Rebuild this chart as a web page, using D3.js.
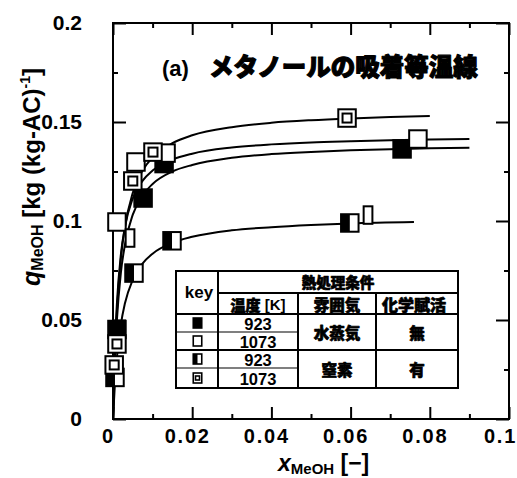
<!DOCTYPE html>
<html><head><meta charset="utf-8">
<script src="https://cdn.jsdelivr.net/npm/d3@7/dist/d3.min.js"></script>
<style>body{margin:0;background:#fff}svg{display:block}</style>
</head><body><svg id="c" width="517" height="478"></svg>
<script>
// ---------- data ----------
const xTicks = [0, 0.02, 0.04, 0.06, 0.08, 0.1];
const xTickLabels = ["0", "0.02", "0.04", "0.06", "0.08", "0.1"];
const xMinor = [0.01, 0.03, 0.05, 0.07, 0.09];
const yTicks = [0, 0.05, 0.1, 0.15, 0.2];
const yTickLabels = ["0", "0.05", "0.1", "0.15", "0.2"];
const yMinor = [0.025, 0.075, 0.125, 0.175];

// measured points
const steam923 = [[0.001, 0.0452], [0.0076, 0.1116], [0.0129, 0.1290], [0.073, 0.1364]];
const steam1073 = [[0.001, 0.0995], [0.0058, 0.1298], [0.0134, 0.1343], [0.077, 0.1414]];
const n2_923 = [[0.0005, 0.0210], [0.0053, 0.0737], [0.0149, 0.0900], [0.0598, 0.0990]];
const n2_923_part = [[0.0043, 0.0914], [0.0644, 0.1030]];
const n2_1073 = [[0.001, 0.0379], [0.0003, 0.0273], [0.005, 0.1202], [0.0101, 0.1348], [0.0591, 0.1520]];

// fitted isotherm lines
const lineX = [0, 0.0005, 0.001, 0.002, 0.003, 0.005, 0.0075, 0.01, 0.015, 0.02, 0.03, 0.04, 0.05, 0.06, 0.07, 0.08, 0.09];
const lineSteam1073 = [0, 0.0369, 0.0587, 0.0833, 0.0969, 0.1114, 0.1204, 0.1255, 0.1310, 0.1340, 0.1371, 0.1387, 0.1397, 0.1403, 0.1408, 0.1411, 0.1414];
const lineSteam923 = [0, 0.0308, 0.0504, 0.0741, 0.0879, 0.1032, 0.1130, 0.1187, 0.1250, 0.1283, 0.1319, 0.1338, 0.1349, 0.1357, 0.1363, 0.1367, 0.1370];
const lineN2_1073X = [0, 0.0005, 0.001, 0.002, 0.003, 0.005, 0.0075, 0.01, 0.015, 0.02, 0.03, 0.04, 0.05, 0.06, 0.07, 0.08];
const lineN2_1073 = [0, 0.0333, 0.0549, 0.0813, 0.0968, 0.1143, 0.1256, 0.1321, 0.1393, 0.1433, 0.1474, 0.1496, 0.1509, 0.1518, 0.1525, 0.1530];
const lineN2_923X = [0, 0.0005, 0.001, 0.002, 0.003, 0.005, 0.0075, 0.01, 0.015, 0.02, 0.03, 0.04, 0.05, 0.06, 0.076];
const lineN2_923 = [0, 0.0185, 0.0313, 0.0479, 0.0583, 0.0704, 0.0786, 0.0835, 0.0890, 0.0920, 0.0953, 0.0969, 0.0980, 0.0988, 0.0995];

// texts
const titleParen = "(a)";
const titleJP = "メタノールの吸着等温線";
const tableHead = ["key", "熱処理条件", "温度 [K]", "雰囲気", "化学賦活"];
const tableTemps = ["923", "1073", "923", "1073"];
const tableKeys = ["filled", "open", "half", "double"];
const tableAtmos = ["水蒸気", "窒素"];
const tableActiv = ["無", "有"];

// ---------- drawing ----------
const svg = d3.select("#c");
svg.append("rect").attr("width", 517).attr("height", 478).attr("fill", "#fff");
const L = 113, R = 509, T = 23, B = 419;
const x = d3.scaleLinear().domain([0, 0.1]).range([L, R]);
const y = d3.scaleLinear().domain([0, 0.2]).range([B, T]);
const LAT = "'Liberation Sans', Arial, Helvetica, sans-serif";
const JP = "'Noto Sans CJK JP', 'Noto Sans CJK SC', sans-serif";

function styleAxis(g) {
  g.select(".domain").remove();
  g.selectAll(".tick line").attr("stroke", "#000").attr("stroke-width", 2);
}
// bottom
svg.append("g").attr("transform", `translate(0,${B})`)
  .call(d3.axisBottom(x).tickValues(xTicks).tickFormat((d, i) => xTickLabels[i]).tickSizeInner(-12).tickSizeOuter(0).tickPadding(10))
  .call(styleAxis)
  .call(g => g.selectAll("text").attr("font-family", LAT).attr("font-weight", "bold").attr("font-size", 20)
    .attr("letter-spacing", "1.8px").attr("dx", (d, i) => i === xTicks.length - 1 ? -9 : -5).attr("fill", "#000"));
svg.append("g").attr("transform", `translate(0,${B})`)
  .call(d3.axisBottom(x).tickValues(xMinor).tickFormat("").tickSizeInner(-5).tickSizeOuter(0)).call(styleAxis);
// top
svg.append("g").attr("transform", `translate(0,${T})`)
  .call(d3.axisTop(x).tickValues(xTicks).tickFormat("").tickSizeInner(-12).tickSizeOuter(0)).call(styleAxis);
svg.append("g").attr("transform", `translate(0,${T})`)
  .call(d3.axisTop(x).tickValues(xMinor).tickFormat("").tickSizeInner(-5).tickSizeOuter(0)).call(styleAxis);
// left
svg.append("g").attr("transform", `translate(${L},0)`)
  .call(d3.axisLeft(y).tickValues(yTicks).tickFormat((d, i) => yTickLabels[i]).tickSizeInner(-13).tickSizeOuter(0).tickPadding(31))
  .call(styleAxis)
  .call(g => g.selectAll("text").attr("font-family", LAT).attr("font-weight", "bold").attr("font-size", 21).attr("fill", "#000"));
svg.append("g").attr("transform", `translate(${L},0)`)
  .call(d3.axisLeft(y).tickValues(yMinor).tickFormat("").tickSizeInner(-5).tickSizeOuter(0)).call(styleAxis);
// right
svg.append("g").attr("transform", `translate(${R},0)`)
  .call(d3.axisRight(y).tickValues(yTicks).tickFormat("").tickSizeInner(-13).tickSizeOuter(0)).call(styleAxis);
svg.append("g").attr("transform", `translate(${R},0)`)
  .call(d3.axisRight(y).tickValues(yMinor).tickFormat("").tickSizeInner(-5).tickSizeOuter(0)).call(styleAxis);

// frame
svg.append("rect").attr("x", L).attr("y", T).attr("width", R - L).attr("height", B - T)
  .attr("fill", "none").attr("stroke", "#000").attr("stroke-width", 2);

// lines
const line = d3.line().x(d => x(d[0])).y(d => y(d[1])).curve(d3.curveMonotoneX);
[[lineX, lineSteam1073], [lineX, lineSteam923], [lineN2_1073X, lineN2_1073], [lineN2_923X, lineN2_923]].forEach(([xs, ys]) => {
  svg.append("path").attr("d", line(xs.map((v, i) => [v, ys[i]])))
    .attr("fill", "none").attr("stroke", "#000").attr("stroke-width", 2);
});

// markers
function marker(g, type, cx, cy, w, h, sw, inner) {
  if (type === "part") {
    g.append("rect").attr("x", cx - w / 4).attr("y", cy - h / 2).attr("width", w / 2).attr("height", h)
      .attr("fill", "#fff").attr("stroke", "#000").attr("stroke-width", sw);
    return;
  }
  g.append("rect").attr("x", cx - w / 2).attr("y", cy - h / 2).attr("width", w).attr("height", h)
    .attr("fill", type === "filled" ? "#000" : "#fff").attr("stroke", "#000").attr("stroke-width", sw);
  if (type === "half") {
    g.append("rect").attr("x", cx - w / 2).attr("y", cy - h / 2).attr("width", w / 2).attr("height", h).attr("fill", "#000");
  }
  if (type === "double") {
    g.append("rect").attr("x", cx - inner / 2).attr("y", cy - inner / 2).attr("width", inner).attr("height", inner)
      .attr("fill", "#fff").attr("stroke", "#000").attr("stroke-width", sw);
  }
}
const mg = svg.append("g");
const S = 17.5;
[[steam923, "filled"], [steam1073, "open"], [n2_923, "half"], [n2_923_part, "part"], [n2_1073, "double"]].forEach(([arr, t]) => {
  arr.forEach(d => marker(mg, t, x(d[0]), y(d[1]), S, S, 2, 9));
});

// title
const tt = svg.append("text").attr("x", 162).attr("y", 76).attr("fill", "#000");
tt.append("tspan").attr("font-family", LAT).attr("font-weight", "bold").attr("font-size", 22).text(titleParen);
tt.append("tspan").attr("x", 209).attr("font-family", JP).attr("font-weight", 900).attr("font-size", 24.5)
  .attr("stroke", "#000").attr("stroke-width", 1.1).attr("stroke-linejoin", "round").text(titleJP);

// axis titles
const xt = svg.append("text").attr("x", 278).attr("y", 471).attr("fill", "#000").attr("font-family", LAT).attr("font-weight", "bold");
xt.append("tspan").attr("font-size", 23).attr("font-style", "italic").text("x");
xt.append("tspan").attr("font-size", 15).attr("dy", 3).text("MeOH");
xt.append("tspan").attr("font-size", 23).attr("dy", -3).text(" [−]");

const yt = svg.append("text").attr("transform", "translate(40,177) rotate(-90)").attr("text-anchor", "middle")
  .attr("fill", "#000").attr("font-family", LAT).attr("font-weight", "bold");
yt.append("tspan").attr("font-size", 25).attr("font-style", "italic").text("q");
yt.append("tspan").attr("font-size", 16).attr("dy", 3).text("MeOH");
yt.append("tspan").attr("font-size", 24).attr("dy", -3).text(" [kg (kg-AC)");
yt.append("tspan").attr("font-size", 14).attr("dy", -10).text("-1");
yt.append("tspan").attr("font-size", 24).attr("dy", 10).text("]");

// table
const tb = svg.append("g");
const tL = 176, tR = 458, tT = 271, tB = 388, cK = 218, c2 = 298, c3 = 376, h1 = 293, h2 = 314;
const rowY = [314, 332, 350, 368, 388];
tb.append("rect").attr("x", tL).attr("y", tT).attr("width", tR - tL).attr("height", tB - tT).attr("fill", "#fff");
function ln(x1, y1, x2, y2, w) {
  tb.append("line").attr("x1", x1).attr("y1", y1).attr("x2", x2).attr("y2", y2).attr("stroke", "#000").attr("stroke-width", w);
}
ln(cK, tT, cK, tB, 2);
ln(cK, h1, tR, h1, 2);
ln(tL, h2, tR, h2, 2.2);
ln(c2, h1, c2, tB, 2);
ln(c3, h1, c3, tB, 2);
ln(tL, rowY[2], tR, rowY[2], 2);
ln(tL, rowY[1], c2, rowY[1], 1.2);
ln(tL, rowY[3], c2, rowY[3], 1.2);
tb.append("rect").attr("x", tL).attr("y", tT).attr("width", tR - tL).attr("height", tB - tT)
  .attr("fill", "none").attr("stroke", "#000").attr("stroke-width", 2);

function txt(s, cx, cy, size, jp) {
  const t = tb.append("text").attr("x", cx).attr("y", cy).attr("text-anchor", "middle").attr("dominant-baseline", "central")
    .attr("font-family", jp ? JP : LAT).attr("font-weight", jp ? 900 : "bold").attr("font-size", size).attr("fill", "#000").text(s);
  if (jp) t.attr("stroke", "#000").attr("stroke-width", 0.7).attr("stroke-linejoin", "round");
}
txt(tableHead[0], 199, 292, 17, false);
txt(tableHead[1], (cK + tR) / 2, 281, 14.5, true);
tb.append("text").attr("x", (cK + c2) / 2).attr("y", 304).attr("text-anchor", "middle").attr("dominant-baseline", "central")
  .attr("fill", "#000").call(t => {
    t.append("tspan").attr("font-family", JP).attr("font-weight", 900).attr("font-size", 15)
      .attr("stroke", "#000").attr("stroke-width", 0.7).text("温度");
    t.append("tspan").attr("font-family", LAT).attr("font-weight", "bold").attr("font-size", 15).text(" [K]");
  });
txt(tableHead[3], (c2 + c3) / 2, 304, 15.5, true);
txt(tableHead[4], (c3 + tR) / 2 - 3, 304, 16, true);
tableTemps.forEach((s, i) => txt(s, (cK + c2) / 2, (rowY[i] + rowY[i + 1]) / 2 + 1, 16.5, false));
tableKeys.forEach((k, i) => marker(tb, k, 197.5, (rowY[i] + rowY[i + 1]) / 2, 8.5, 10, 1.6, 4));
tableAtmos.forEach((s, i) => txt(s, (c2 + c3) / 2, (rowY[2 * i] + rowY[2 * i + 2]) / 2, 15.5, true));
tableActiv.forEach((s, i) => txt(s, (c3 + tR) / 2, (rowY[2 * i] + rowY[2 * i + 2]) / 2, 15.5, true));
</script></body></html>
